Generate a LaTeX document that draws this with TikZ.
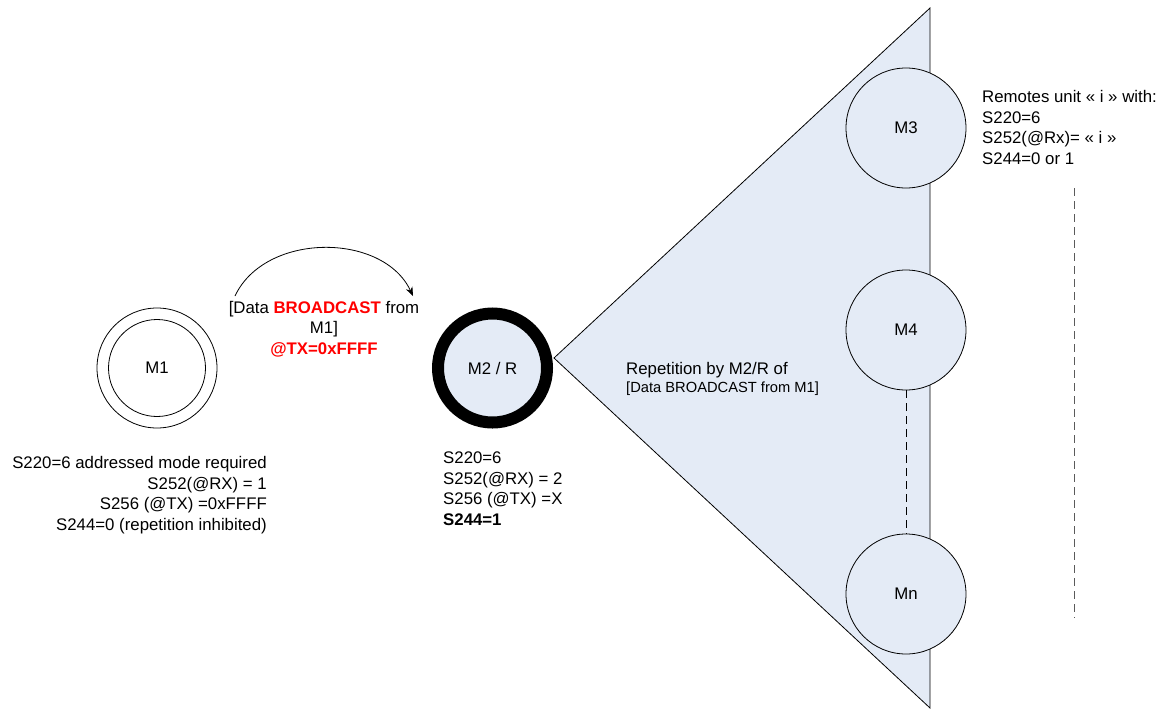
\documentclass[tikz,border=0pt]{standalone}
\usepackage{fontspec}
\setmainfont{Liberation Sans}
\usetikzlibrary{arrows.meta}
\definecolor{paleblue}{RGB}{228,235,246}
\definecolor{dashgray}{RGB}{90,90,90}
\tikzset{
  big/.style={font=\fontsize{16.8}{20.4}\selectfont},
  small/.style={font=\fontsize{14.7}{17}\selectfont},
  unit/.style={circle, draw=black, line width=0.8pt, fill=paleblue, minimum size=120pt, inner sep=0pt, big},
  info/.style={inner sep=0pt, big},
  dashline/.style={line width=0.8pt, dash pattern=on 8pt off 5pt},
}
\begin{document}
\begin{tikzpicture}[x=1pt,y=-1pt]
\useasboundingbox (0,0) rectangle (1157,710);
% broadcast fan
\draw[line width=0.8pt, fill=paleblue] (554,358) -- (930,8) -- (930,708) -- cycle;
% M1
\node[circle, draw, line width=0.8pt, minimum size=120pt, inner sep=0pt] (m1o) at (157,368) {};
\node[circle, draw, line width=0.8pt, minimum size=97pt, inner sep=0pt, big] (m1) at (157,368) {M1};
% M2 / R
\node[circle, draw=black, line width=12pt, fill=paleblue, minimum size=109pt, inner sep=0pt, big] (m2) at (492.5,368) {M2 / R};
% remotes
\node[unit] (m3) at (906,128) {M3};
\node[unit] (m4) at (906,330) {M4};
\node[unit] (mn) at (906,594) {Mn};
\draw[dashline] (m4) -- (mn);
% right dashed line
\coordinate (dtop) at (1074,188);
\coordinate (dbot) at (1074,618);
\draw[dashline, draw=dashgray] (dtop) -- (dbot);
% arc
\coordinate (arcS) at (235,296);
\coordinate (arcE) at (413,296);
\draw[line width=0.8pt, -{Stealth[length=9pt,width=7pt]}] (arcS) .. controls (265,232) and (383,232) .. (arcE);
% texts
\node[info, align=center, anchor=base] (bc) at (324,354) {[Data {\color{red}\bfseries BROADCAST} from\\M1]\\{\color{red}\bfseries @TX=0xFFFF}};
\node[info, align=right, anchor=base east] (m1txt) at (267,530) {S220=6 addressed mode required\\S252(@RX) = 1\\S256 (@TX) =0xFFFF\\S244=0 (repetition inhibited)};
\node[info, align=left, anchor=base west] (m2txt) at (443,525) {S220=6\\S252(@RX) = 2\\S256 (@TX) =X\\\textbf{S244=1}};
\node[info, align=left, anchor=base west] (rem) at (982,164) {Remotes unit « i » with:\\S220=6\\S252(@Rx)= « i »\\S244=0 or 1};
\node[info, anchor=base west] (rep) at (626,374) {Repetition by M2/R of};
\node[inner sep=0pt, small, anchor=base west] (rep2) at (626,392) {[Data BROADCAST from M1]};
\end{tikzpicture}
\end{document}
